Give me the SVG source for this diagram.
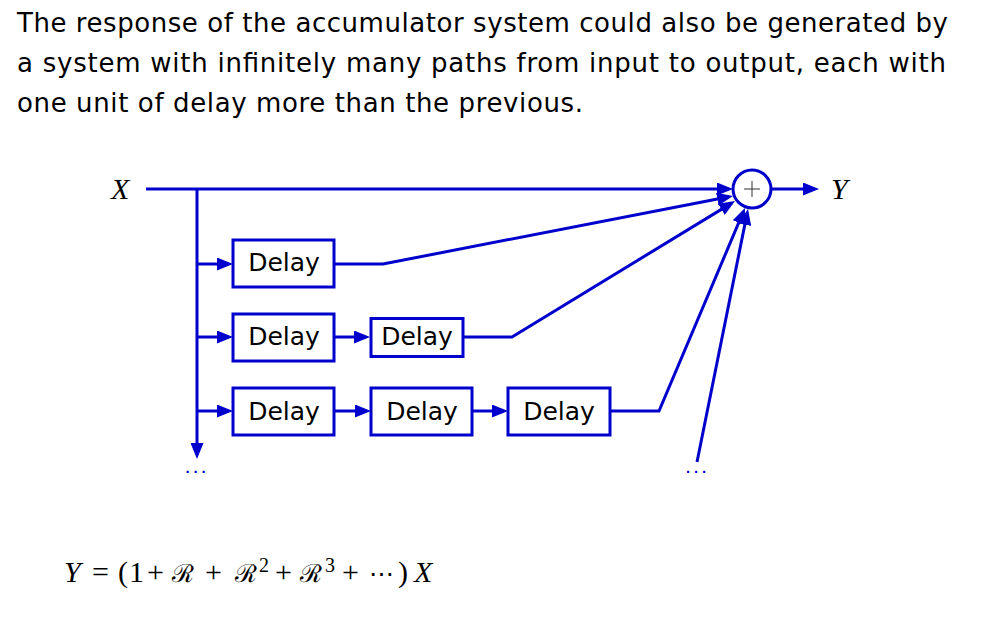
<svg xmlns="http://www.w3.org/2000/svg" width="988" height="630" viewBox="0 0 988 630">
<style>
.title{font-family:"DejaVu Sans","Liberation Sans",sans-serif;font-size:26px;fill:#000}
.box{fill:#fff;stroke:#0000cc;stroke-width:3}
.lbl{font-family:"DejaVu Sans","Liberation Sans",sans-serif;font-size:25px;fill:#000;text-anchor:middle}
.arr{fill:none;stroke:#0000cc;stroke-width:3;marker-end:url(#ah)}
.math{font-family:"Liberation Serif","DejaVu Serif",serif;font-size:30px;fill:#000}
.it{font-style:italic}
.cal{font-size:25px}
.dots{font-family:"Liberation Sans",sans-serif;font-size:15px;font-weight:bold;fill:#0000cc;letter-spacing:3.8px}
</style>
<defs>
<marker id="ah" viewBox="0 0 16 13" refX="12" refY="6.5" markerWidth="16" markerHeight="13" markerUnits="userSpaceOnUse" orient="auto">
<path d="M0,0 L16,6.5 L0,13 z" fill="#0000cc"/>
</marker>
</defs>
<rect width="988" height="630" fill="#fff"/>
<g id="caption">
<text class="title" x="17" y="32" textLength="931">The response of the accumulator system could also be generated by</text>
<text class="title" x="17" y="72" textLength="929">a system with infinitely many paths from input to output, each with</text>
<text class="title" x="17" y="112" textLength="566">one unit of delay more than the previous.</text>
</g>
<g id="connectors">
<line class="arr" x1="146" y1="189" x2="729" y2="189"/>
<line class="arr" x1="771" y1="189" x2="815" y2="189"/>
<line class="arr" x1="197" y1="189" x2="197" y2="455"/>
<line class="arr" x1="197" y1="264" x2="229" y2="264"/>
<line class="arr" x1="197" y1="337" x2="229" y2="337"/>
<line class="arr" x1="197" y1="411" x2="229" y2="411"/>
<line class="arr" x1="334" y1="337" x2="366" y2="337"/>
<line class="arr" x1="334" y1="411" x2="367" y2="411"/>
<line class="arr" x1="472" y1="411" x2="504" y2="411"/>
<polyline class="arr" points="334,264 383,264 729.1,196.8"/>
<polyline class="arr" points="463,337 512,337 731.6,203.1"/>
<polyline class="arr" points="611,411 659,411 743.4,211.7"/>
<line class="arr" x1="697" y1="462" x2="747.2" y2="212.9"/>
</g>
<g id="input">
<text class="math it" x="111" y="199" font-size="28">X</text>
</g>
<g id="output">
<text class="math it" x="831" y="199" font-size="28">Y</text>
</g>
<g id="sum">
<circle cx="752" cy="189" r="19" fill="#fff" stroke="#0000cc" stroke-width="3"/>
<line x1="744" y1="189" x2="760" y2="189" stroke="#333" stroke-width="1"/>
<line x1="752" y1="181" x2="752" y2="197" stroke="#333" stroke-width="1"/>
</g>
<g id="delay1">
<rect class="box" x="233" y="240" width="101" height="47"/>
<text class="lbl" x="284" y="271">Delay</text>
</g>
<g id="delay2a">
<rect class="box" x="233" y="314" width="101" height="47"/>
<text class="lbl" x="284" y="345">Delay</text>
</g>
<g id="delay2b">
<rect class="box" x="371" y="318.5" width="92" height="38"/>
<text class="lbl" x="417" y="345">Delay</text>
</g>
<g id="delay3a">
<rect class="box" x="233" y="388" width="101" height="47"/>
<text class="lbl" x="284" y="420">Delay</text>
</g>
<g id="delay3b">
<rect class="box" x="371" y="388" width="101" height="47"/>
<text class="lbl" x="422" y="420">Delay</text>
</g>
<g id="delay3c">
<rect class="box" x="508" y="388" width="102" height="47"/>
<text class="lbl" x="559" y="420">Delay</text>
</g>
<g id="more-left"><text class="dots" x="185.5" y="473">...</text></g>
<g id="more-right"><text class="dots" x="686" y="473">...</text></g>
<g id="equation">
<text class="math" y="582">
<tspan class="it" x="64">Y</tspan>
<tspan x="92">=</tspan>
<tspan x="118">(</tspan>
<tspan x="129">1</tspan>
<tspan x="147">+</tspan>
<tspan class="cal" x="172">ℛ</tspan>
<tspan x="205">+</tspan>
<tspan class="cal" x="235">ℛ</tspan>
<tspan x="259" y="572" font-size="20">2</tspan>
<tspan x="275" y="582">+</tspan>
<tspan class="cal" x="300">ℛ</tspan>
<tspan x="325" y="572" font-size="20">3</tspan>
<tspan x="342" y="582">+</tspan>
<tspan x="369" font-size="25">⋯</tspan>
<tspan x="398">)</tspan>
<tspan class="it" x="414">X</tspan>
</text>
</g>
</svg>
